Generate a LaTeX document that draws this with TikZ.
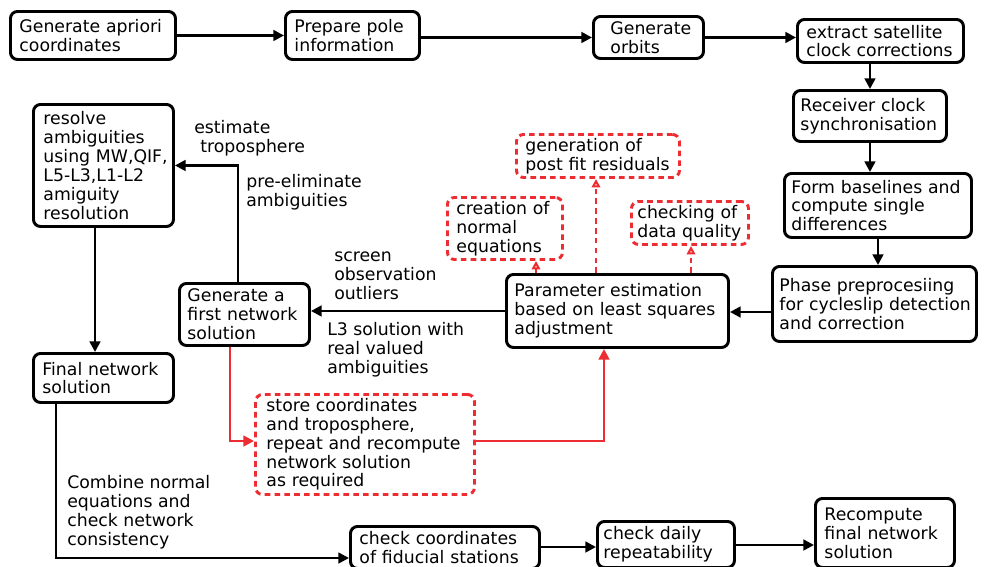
\documentclass[tikz,border=0pt]{standalone}
\usepackage{fontspec}
\setmainfont{DejaVu Sans}
\usetikzlibrary{arrows.meta}
\definecolor{rd}{RGB}{238,45,50}
\newcommand\mkbox[8][box]{%
  \pgfmathsetmacro\bxw{(#5-#3)*0.025}%
  \pgfmathsetmacro\bxh{(#6-#4)*0.025}%
  \pgfmathsetmacro\bxt{(#5-#3-2*#7)*0.025}%
  \pgfmathsetmacro\bxp{#7*0.025}%
  \node[#1, anchor=north west, minimum width=\bxw cm, minimum height=\bxh cm,
        inner xsep=\bxp cm, inner ysep=0pt, text width=\bxt cm, align=left]
        (#2) at (#3,#4) {#8};}
\tikzset{
  txt/.style={font=\fontsize{12.3}{13.4}\selectfont,
    execute at begin node={\hyphenpenalty=10000\exhyphenpenalty=10000\hbadness=10000\hfuzz=30pt}},
  box/.style={txt, draw, line width=2.1pt, rounded corners=5pt},
  rbox/.style={box, draw=rd, dash pattern=on 4pt off 3pt},
  arr/.style={line width=1.8pt, -{Triangle[length=7.5pt,width=7.5pt]}},
  rarr/.style={arr, draw=rd},
  rdarr/.style={line width=1.7pt, draw=rd, dash pattern=on 4pt off 3pt,
                -{Triangle[open,length=6pt,width=6pt]}},
  lbl/.style={txt, inner sep=0pt, align=left, anchor=west}
}
\begin{document}
\begin{tikzpicture}[x=0.025cm,y=-0.025cm]
\clip (0,0) rectangle (984,566);
\fill[white] (0,0) rectangle (984,566);
% boxes
\mkbox{b1}{9}{10}{174}{58}{9}{Generate~apriori\\coordinates}
\mkbox{b2}{284}{10}{418}{58}{9}{Prepare~pole\\information}
\mkbox{b3}{592}{15}{702}{57}{17}{Generate\\orbits}
\mkbox{b4}{796}{18}{962}{61}{9}{extract~satellite\\clock~corrections}
\mkbox{b5}{792}{89}{945}{140}{7}{Receiver~clock\\synchronisation}
\mkbox{b6}{783}{172}{970}{236}{7}{Form~baselines~and\\compute~single\\differences}
\mkbox{b7}{771}{265}{975}{340}{7}{Phase~preprocesiing\\for~cycleslip~detection\\and~correction}
\mkbox{b8}{505}{273}{727}{346}{8}{Parameter~estimation\\based~on~least~squares\\adjustment}
\mkbox[rbox]{b9}{515}{133}{678}{176}{9}{generation~of\\post~fit~residuals}
\mkbox[rbox]{b10}{446}{196}{561}{258}{9}{creation~of\\normal\\equations}
\mkbox[rbox]{b11}{630}{200}{747}{243}{6}{checking~of\\data~quality}
\mkbox{b12}{178}{282}{308}{344}{8}{Generate~a\\first~network\\solution}
\mkbox{b13}{32}{103}{172}{225}{10}{resolve\\ambiguities\\using~MW,QIF,\\L5-L3,L1-L2\\amiguity\\resolution}
\mkbox{b14}{32}{352}{172}{401}{9}{Final~network\\solution}
\mkbox[rbox]{b15}{254}{393}{473}{493}{11}{store~coordinates\\and~troposphere,\\repeat~and~recompute\\network~solution\\as~required}
\mkbox{b16}{349}{525}{538}{567}{9}{check~coordinates\\of~fiducial~stations}
\mkbox{b17}{596}{520}{733}{566}{6}{check~daily\\repeatability}
\mkbox{b18}{814}{497}{953}{566}{9}{Recompute\\final~network\\solution}
% labels
\node[lbl] (l1) at (194,138) {estimate\\\hspace*{0.35em}troposphere};
\node[lbl] (l2) at (246,192) {pre-eliminate\\ambiguities};
\node[lbl] (l3) at (334,276) {screen\\observation\\outliers};
\node[lbl] (l4) at (327,350) {L3~solution~with\\real~valued\\ambiguities};
\node[lbl] (l5) at (67,512) {Combine~normal\\equations~and\\check~network\\consistency};
% helper coordinates
\coordinate (x56) at (56,0);
\coordinate (x95) at (95,0);
\coordinate (x230) at (230,0);
\coordinate (x238) at (238,0);
\coordinate (x536) at (536,0);
\coordinate (x596) at (596,0);
\coordinate (x604) at (604,0);
\coordinate (x691) at (691,0);
\coordinate (y312) at (0,312);
\coordinate (y441) at (0,441);
\coordinate (y545) at (0,545);
\coordinate (y547) at (0,547);
\coordinate (y558) at (0,558);
% black connectors
\draw[arr] (b1.east) -- (b2.west);
\draw[arr] (b2.east |- b3.west) -- (b3.west);
\draw[arr] (b3.east) -- (b3.east -| b4.west);
\draw[arr] (b5.north |- b4.south) -- (b5.north);
\draw[arr] (b5.south) -- (b5.south |- b6.north);
\draw[arr] (b6.south) -- (b6.south |- b7.north);
\draw[arr] (b7.west |- y312) -- (b8.east |- y312);
\draw[arr] (b8.west) -- (b8.west -| b12.east);
\draw[arr] (b12.north -| x238) |- (b13.east);
\draw[arr] (b13.south -| x95) -- (b14.north -| x95);
\draw[arr] (b14.south -| x56) |- (b16.west |- y558);
\draw[arr] (b16.east |- y547) -- (b17.west |- y547);
\draw[arr] (b17.east |- y545) -- (b18.west |- y545);
% red connectors
\draw[rarr] (b12.south -| x230) |- (b15.west |- y441);
\draw[rarr] (b15.east |- y441) -| (b8.south -| x604);
\draw[rdarr] (b8.north -| x536) -- (b10.south -| x536);
\draw[rdarr] (b8.north -| x596) -- (b9.south -| x596);
\draw[rdarr] (b8.north -| x691) -- (b11.south -| x691);
\end{tikzpicture}
\end{document}
